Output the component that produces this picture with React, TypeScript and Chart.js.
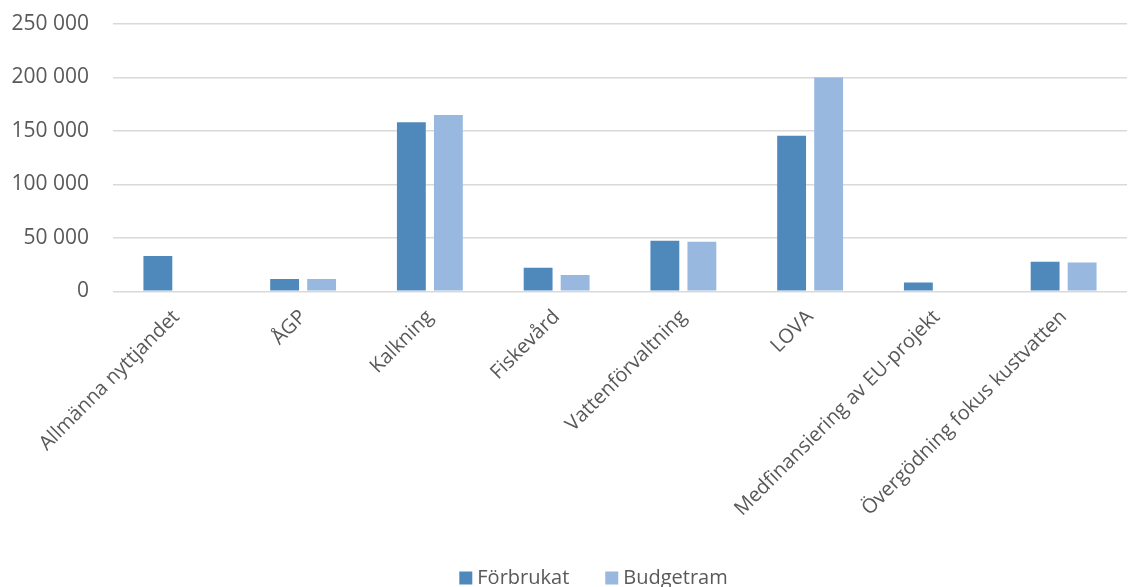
import React, { useEffect, useRef } from "react";
import { Chart, registerables } from "chart.js";

Chart.register(...registerables);

const categories = [
  "Allmänna nyttjandet",
  "ÅGP",
  "Kalkning",
  "Fiskevård",
  "Vattenförvaltning",
  "LOVA",
  "Medfinansiering av EU-projekt",
  "Övergödning fokus kustvatten",
];
const forbrukat = [33000, 11500, 158000, 22000, 47300, 145600, 8200, 27600];
const budgetram = [0, 11500, 165000, 15200, 46400, 200000, 0, 27000];

const seriesNames = ["Förbrukat", "Budgetram"];
const FONT = "'Open Sans', 'Noto Sans', sans-serif";
const TEXT = "#595959";

function fmt(v: number) {
  return String(v).replace(/\B(?=(\d{3})+(?!\d))/g, " ");
}

const bottomLegend = {
  id: "bottomLegend",
  afterDraw(chart: any) {
    const ctx = chart.ctx as CanvasRenderingContext2D;
    const ds = chart.data.datasets;
    ctx.save();
    ctx.font = `20px ${FONT}`;
    ctx.textBaseline = "middle";
    ctx.textAlign = "left";
    const box = 13;
    const gapText = 5;
    const gapItem = 36;
    const widths = ds.map((d: any) => box + gapText + ctx.measureText(d.label).width);
    const total = widths.reduce((a: number, b: number) => a + b, 0) + gapItem * (ds.length - 1);
    let x = chart.width / 2 + 22 - total / 2;
    const cy = 578;
    ds.forEach((d: any, i: number) => {
      ctx.fillStyle = d.backgroundColor;
      ctx.fillRect(x, cy - box / 2, box, box);
      ctx.fillStyle = TEXT;
      ctx.fillText(d.label, x + box + gapText, cy);
      x += widths[i] + gapItem;
    });
    ctx.restore();
  },
};

export default function App() {
  const ref = useRef<HTMLCanvasElement>(null);
  useEffect(() => {
    if (!ref.current) return;
    const chart = new Chart(ref.current, {
      type: "bar",
      data: {
        labels: categories,
        datasets: [
          {
            label: seriesNames[0],
            data: forbrukat,
            backgroundColor: "#4F89BC",
            borderWidth: 0,
            categoryPercentage: 0.584,
            barPercentage: 0.78,
          },
          {
            label: seriesNames[1],
            data: budgetram,
            backgroundColor: "#98B8DF",
            borderWidth: 0,
            categoryPercentage: 0.584,
            barPercentage: 0.78,
          },
        ],
      },
      options: {
        animation: false,
        responsive: true,
        maintainAspectRatio: false,
        layout: { padding: { left: 0, right: 16, top: 24, bottom: 60 } },
        plugins: {
          legend: { display: false },
          tooltip: { enabled: false },
        },
        scales: {
          x: {
            grid: { display: false },
            border: { display: false },
            ticks: {
              font: { family: FONT, size: 20 },
              color: TEXT,
              maxRotation: 45,
              minRotation: 45,
              autoSkip: false,
              padding: 6,
            },
          },
          y: {
            min: 0,
            max: 250000,
            border: { display: false },
            grid: { color: "#d9d9d9", lineWidth: 1.5, drawTicks: false },
            afterFit: (scale: any) => {
              scale.width = 113;
              scale.paddingTop = 0;
              scale.paddingBottom = 0;
            },
            ticks: {
              stepSize: 50000,
              font: { family: FONT, size: 21 },
              color: TEXT,
              padding: 24,
              callback: (v: any) => fmt(Number(v)),
            },
          },
        },
      },
      plugins: [bottomLegend],
    });
    return () => chart.destroy();
  }, []);
  return (
    <div style={{ position: "fixed", left: 0, top: 0, width: 1143, height: 587, background: "#fff" }}>
      <canvas ref={ref} />
    </div>
  );
}
